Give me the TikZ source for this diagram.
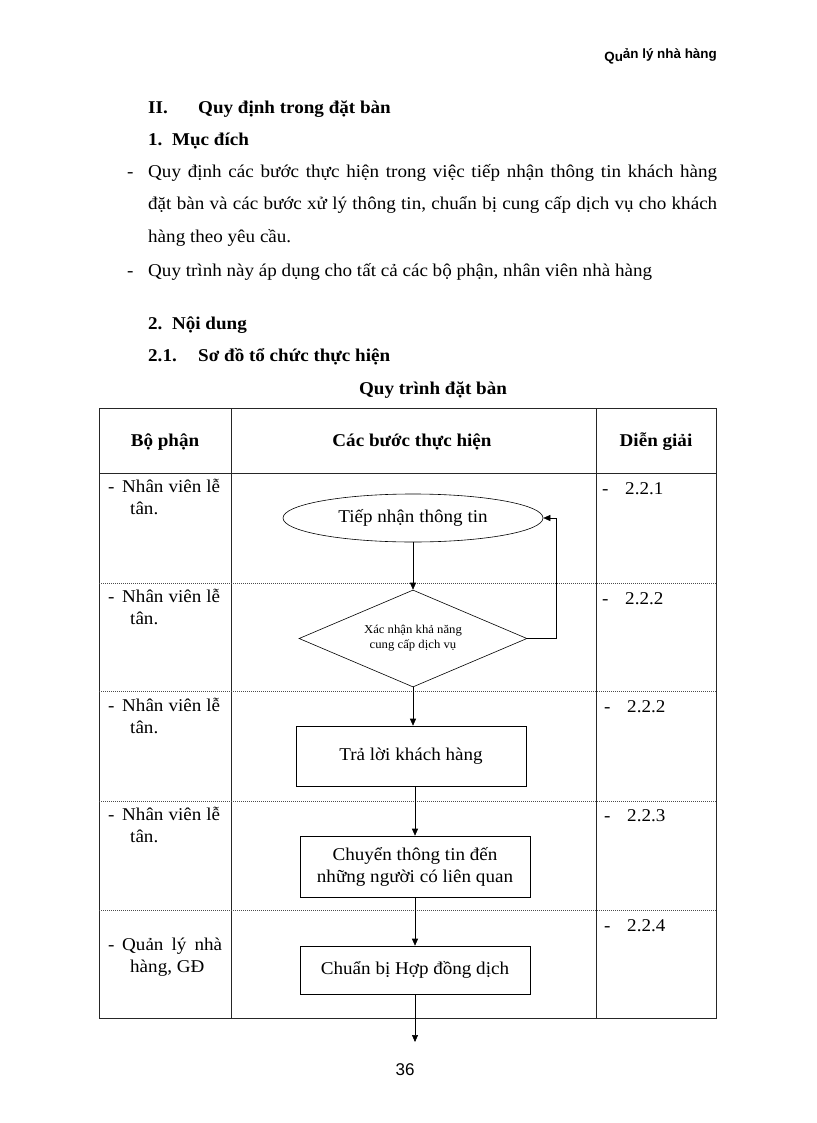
\documentclass[tikz,border=0pt]{standalone}
\usepackage{fontspec}
\setmainfont{Liberation Serif}[FakeStretch=1.06]
\newfontfamily\hdrfont{Liberation Sans}
\usetikzlibrary{shapes.geometric,arrows.meta}
\tikzset{
  txt/.style={inner sep=0pt, anchor=base west, font=\fontsize{18}{21}\selectfont},
  btxt/.style={txt, font=\fontsize{18}{21}\selectfont\bfseries},
  ctxt/.style={txt, anchor=base},
  cbtxt/.style={btxt, anchor=base},
  frame/.style={line width=1pt, black!85},
  dotline/.style={line width=0.6pt, black!70, dash pattern=on 1pt off 1pt},
  flow/.style={draw, line width=0.6pt, align=center, inner sep=2pt, font=\fontsize{18}{22}\selectfont},
  arr/.style={line width=0.6pt, -{Triangle[length=7pt,width=6pt]}},
  line/.style={line width=0.6pt}
}
\begin{document}
\begin{tikzpicture}[x=1pt,y=-1pt]
\useasboundingbox[fill=white] (0,0) rectangle (816,1123);

% page header
\node[inner sep=0pt, anchor=base east, font=\hdrfont\bfseries\fontsize{13.4}{15}\selectfont] (hdr) at (717,62) {Qu\raisebox{3pt}{ản lý nhà hàng}};

% headings and body text
\node[btxt] (h2roman) at (148,114) {II.};
\node[btxt] (h2) at (198,114) {Quy định trong đặt bàn};
\node[btxt] (h1) at (148,146) {1.\ \ Mục đích};
\node[txt] (d1) at (127,178) {-};
\node[txt] (p1a) at (148,178) {\makebox[569pt][s]{Quy định các bước thực hiện trong việc tiếp nhận thông tin khách hàng}};
\node[txt] (p1b) at (148,210) {\makebox[569pt][s]{đặt bàn và các bước xử lý thông tin, chuẩn bị cung cấp dịch vụ cho khách}};
\node[txt] (p1c) at (148,243) {hàng theo yêu cầu.};
\node[txt] (d2) at (127,276) {-};
\node[txt] (p2) at (148,276) {Quy trình này áp dụng cho tất cả các bộ phận, nhân viên nhà hàng};
\node[btxt] (h3) at (148,329) {2.\ \ Nội dung};
\node[btxt] (h4n) at (148,361) {2.1.};
\node[btxt] (h4) at (198,361) {Sơ đồ tổ chức thực hiện};
\node[cbtxt] (title) at (433,394) {Quy trình đặt bàn};

% table
\draw[frame] (99,408) rectangle (716,1018);
\draw[frame] (99,473) -- (716,473);
\draw[frame] (231,408) -- (231,1018);
\draw[frame] (596,408) -- (596,1018);
\foreach \yy in {583,691,801,910} \draw[dotline] (99,\yy) -- (716,\yy);

\node[cbtxt] (th1) at (165,446) {Bộ phận};
\node[cbtxt] (th2) at (412,446) {Các bước thực hiện};
\node[cbtxt] (th3) at (656,446) {Diễn giải};

% left column
\foreach \b/\nm in {492/a,602/b,711/c,820/d}{
  \node[txt] (ld\nm) at (108,\b) {-};
  \node[txt] (l1\nm) at (122,\b) {\makebox[98pt][s]{Nhân viên lễ}};
  \node[txt] (l2\nm) at (130,\b+22) {tân.};
}
\node[txt] (lde) at (108,950) {-};
\node[txt] (l1e) at (122,950) {\makebox[100pt][s]{Quản lý nhà}};
\node[txt] (l2e) at (130,972) {hàng, GĐ};

% right column
\node[txt] (rd1) at (602,494) {-};  \node[txt] (r1) at (625,494) {2.2.1};
\node[txt] (rd2) at (602,604) {-};  \node[txt] (r2) at (625,604) {2.2.2};
\node[txt] (rd3) at (604,712) {-};  \node[txt] (r3) at (627,712) {2.2.2};
\node[txt] (rd4) at (604,821) {-};  \node[txt] (r4) at (627,821) {2.2.3};
\node[txt] (rd5) at (604,931) {-};  \node[txt] (r5) at (627,931) {2.2.4};

% flowchart
\node[flow, ellipse, minimum width=260pt, minimum height=48pt] (ell) at (413,518) {Tiếp nhận thông tin};
\node[flow, diamond, aspect=2.35, inner sep=0pt, minimum width=228pt, minimum height=97pt, font=\fontsize{12}{15}\selectfont] (dia) at (413,638.5) {Xác nhận khả năng\\cung cấp dịch vụ};
\node[flow, rectangle, minimum width=230pt, minimum height=60pt] (b1) at (411,756) {Trả lời khách hàng};
\node[flow, rectangle, minimum width=230pt, minimum height=61pt] (b2) at (415,866.5) {Chuyển thông tin đến\\những người có liên quan};
\node[flow, rectangle, minimum width=230pt, minimum height=48pt] (b3) at (415,970) {Chuẩn bị Hợp đồng dịch};
\coordinate (endp) at (415,1042);

\draw[arr] (ell.south) -- (dia.north);
\draw[arr] (dia.east) -- ++(29,0) |- (ell.east);
\draw[arr] (dia.south) -- (dia.south |- b1.north);
\draw[arr] (b2.north |- b1.south) -- (b2.north);
\draw[arr] (b2.south) -- (b3.north);
\draw[arr] (b3.south) -- (endp);

% page number
\node[inner sep=0pt, anchor=base, font=\hdrfont\fontsize{17}{19}\selectfont] (pg) at (405,1075) {36};
\end{tikzpicture}
\end{document}
